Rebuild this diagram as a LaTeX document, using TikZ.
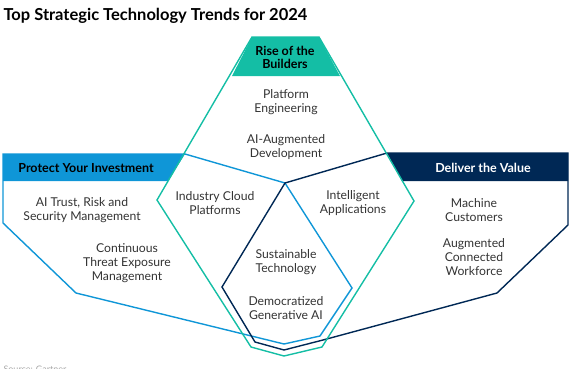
\documentclass[tikz,border=0pt]{standalone}
\usepackage{fontspec}
\setmainfont{Lato}
\definecolor{gteal}{RGB}{20,190,165}
\definecolor{gblue}{RGB}{15,150,215}
\definecolor{gnavy}{RGB}{0,40,85}
\begin{document}
\begin{tikzpicture}[x=1pt,y=-1pt,
  trend/.style={align=center,font=\fontsize{12.2}{14}\selectfont,text=black!80},
  banner/.style={align=center,font=\bfseries\fontsize{12.5}{13}\selectfont}]
  \useasboundingbox (0,0) rectangle (574,368);
  \fill[gteal] (252,37) -- (319,37) -- (340,76) -- (232,76) -- cycle;
  \fill[gblue] (3,154) -- (185,154) -- (168,181) -- (3,181) -- cycle;
  \fill[gnavy] (387,153) -- (568,153) -- (568,181) -- (402,181) -- cycle;
  \draw[gblue,line width=1.4] (3,154) -- (185,154) -- (285,183) -- (352,288) -- (320,336)
    -- (284,344) -- (76,293) -- (3,223) -- cycle;
  \draw[gnavy,line width=1.4] (568,153) -- (387,153) -- (285,183) -- (222,287) -- (255,342)
    -- (284,350) -- (323,340) -- (497,293) -- (568,225) -- cycle;
  \draw[gteal,line width=1.4] (252,37) -- (319,37) -- (414,201) -- (322,347) -- (284,356)
    -- (251,347) -- (157,200) -- cycle;
  \node[anchor=west,font=\bfseries\fontsize{16.5}{18}\selectfont] (title) at (0,16) {Top Strategic Technology Trends for 2024};
  \node[banner] (rise) at (285,57) {Rise of the\\Builders};
  \node[banner] (protect) at (86,168) {Protect Your Investment};
  \node[banner,text=white] (deliver) at (483,168) {Deliver the Value};
  \node[trend] (platform) at (286,102) {Platform\\Engineering};
  \node[trend] (augdev) at (286,147) {AI-Augmented\\Development};
  \node[trend] (cloud) at (215,203) {Industry Cloud\\Platforms};
  \node[trend] (apps) at (353,203) {Intelligent\\Applications};
  \node[trend] (sustain) at (286,262) {Sustainable\\Technology};
  \node[trend] (genai) at (286,308) {Democratized\\Generative AI};
  \node[trend] (trism) at (82,210) {AI Trust, Risk and\\Security Management};
  \node[trend] (ctem) at (127,263) {Continuous\\Threat Exposure\\Management};
  \node[trend] (machine) at (474,210) {Machine\\Customers};
  \node[trend] (workforce) at (474,257) {Augmented\\Connected\\Workforce};
  \node[anchor=west,text=black!35,font=\fontsize{9}{11}\selectfont] (source) at (0,369) {Source: Gartner};
\end{tikzpicture}
\end{document}
